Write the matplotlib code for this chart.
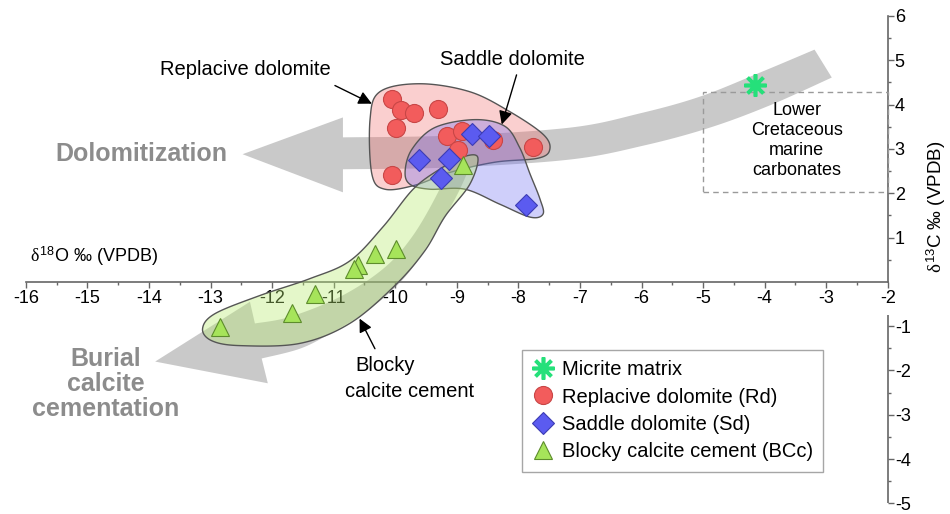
import numpy as np
import matplotlib
matplotlib.use('Agg')
import matplotlib.pyplot as plt
from matplotlib.patches import Polygon, Rectangle

plt.rcParams['font.family'] = ['Liberation Sans', 'DejaVu Sans']
plt.rcParams['mathtext.fontset'] = 'custom'
plt.rcParams['mathtext.rm'] = 'Liberation Sans'
plt.rcParams['mathtext.it'] = 'Liberation Serif'

# ---------------- data ----------------
micrite_d18O = [-4.16]
micrite_d13C = [4.45]
rd_d18O = [-10.06, -9.90, -9.70, -9.30, -9.99, -9.16, -8.92, -8.41, -7.76, -8.98, -10.06]
rd_d13C = [4.13, 3.87, 3.80, 3.89, 3.48, 3.30, 3.40, 3.21, 3.05, 2.97, 2.40]
sd_d18O = [-9.62, -9.12, -8.76, -8.47, -9.26, -7.88]
sd_d13C = [2.76, 2.78, 3.33, 3.29, 2.35, 1.73]
bcc_d18O = [-8.90, -9.99, -10.33, -10.60, -10.67, -11.31, -11.68, -12.85]
bcc_d13C = [2.63, 0.74, 0.63, 0.37, 0.29, -0.27, -0.70, -1.02]

x_ticks = list(range(-16, -1))
y_ticks = [-5, -4, -3, -2, -1, 1, 2, 3, 4, 5, 6]
legend_labels = ['Micrite matrix', 'Replacive dolomite (Rd)',
                 'Saddle dolomite (Sd)', 'Blocky calcite cement (BCc)']

# envelope outlines (d18O, d13C)
rd_env_x = [-10.25, -9.60, -8.79, -8.14, -7.60, -7.49, -7.68, -8.38, -9.11, -9.68, -10.17, -10.38, -10.41]
rd_env_y = [4.29, 4.47, 4.29, 3.84, 3.33, 2.99, 2.79, 2.70, 2.47, 2.18, 2.09, 2.43, 3.66]
sd_env_x = [-9.84, -9.73, -9.36, -8.71, -8.22, -7.98, -7.81, -7.65, -7.60, -7.81, -8.30, -8.87, -9.44, -9.76]
sd_env_y = [2.49, 2.99, 3.48, 3.66, 3.51, 3.03, 2.43, 1.87, 1.53, 1.46, 1.75, 2.09, 2.09, 2.20]
bcc_env_x = [-8.66, -8.79, -9.19, -9.52, -10.01, -10.74, -11.55, -12.52, -12.98, -13.13, -12.93,
             -12.20, -11.39, -10.74, -10.20, -9.71, -9.28, -8.92]
bcc_env_y = [2.81, 2.20, 1.48, 0.70, -0.09, -0.94, -1.39, -1.44, -1.33, -1.06, -0.72,
             -0.31, 0.07, 0.47, 1.24, 2.09, 2.54, 2.81]

# trend arrows (edges)
dol_up_x = [-10.85, -9.11, -7.16, -6.03, -5.05, -4.08, -3.19]
dol_up_y = [3.26, 3.30, 3.48, 3.80, 4.18, 4.72, 5.24]
dol_lo_x = [-2.91, -3.92, -4.89, -5.95, -7.16, -9.11, -10.85]
dol_lo_y = [4.61, 3.98, 3.48, 3.08, 2.76, 2.58, 2.54]
dol_head_x = [-10.85, -12.48, -10.85]
dol_head_y = [2.02, 2.88, 3.71]

bur_up_x = [-9.08, -9.32, -9.73, -10.20, -10.90, -11.71, -12.28]
bur_up_y = [2.76, 1.98, 1.01, 0.29, -0.34, -0.79, -0.94]
bur_head_x = [-12.36, -13.90, -12.07]
bur_head_y = [-0.45, -1.80, -2.29]
bur_lo_x = [-12.17, -11.55, -11.06, -10.41, -9.84, -9.41, -9.03, -8.82]
bur_lo_y = [-1.73, -1.51, -1.17, -0.61, 0.11, 0.97, 1.87, 2.49]


def catmull_rom(xs, ys, closed=True, n=20):
    pts = np.column_stack([xs, ys]).astype(float)
    if closed:
        P = np.vstack([pts[-1], pts, pts[0], pts[1]])
    else:
        P = np.vstack([pts[0], pts, pts[-1]])
    t = np.linspace(0, 1, n, endpoint=False)[:, None]
    out = []
    for i in range(1, len(P) - 2):
        p0, p1, p2, p3 = P[i - 1], P[i], P[i + 1], P[i + 2]
        seg = 0.5 * ((2 * p1) + (-p0 + p2) * t + (2 * p0 - 5 * p1 + 4 * p2 - p3) * t ** 2
                     + (-p0 + 3 * p1 - 3 * p2 + p3) * t ** 3)
        out.append(seg)
    if not closed:
        out.append(pts[-1:])
    return np.vstack(out)


fig = plt.figure(figsize=(9.5, 5.14), dpi=100)
ax = fig.add_axes([0, 0, 1, 1])
ax.set_xlim(-16.42, -0.99)
ax.set_ylim(-5.24, 6.36)
ax.set_facecolor('white')

grey_arrow = '#c9c9c9'
# dolomitization arrow
up = catmull_rom(dol_up_x, dol_up_y, closed=False)
lo = catmull_rom(dol_lo_x, dol_lo_y, closed=False)
head = np.column_stack([dol_head_x, dol_head_y])
ax.add_patch(Polygon(np.vstack([up, lo, head]), closed=True, facecolor=grey_arrow,
                     edgecolor='none', zorder=1))
# burial arrow
up = catmull_rom(bur_up_x, bur_up_y, closed=False)
lo = catmull_rom(bur_lo_x, bur_lo_y, closed=False)
head = np.column_stack([bur_head_x, bur_head_y])
ax.add_patch(Polygon(np.vstack([up, head, lo]), closed=True, facecolor=grey_arrow,
                     edgecolor='none', zorder=1))

# envelopes
env_edge = '#555555'
ax.add_patch(Polygon(catmull_rom(rd_env_x, rd_env_y), closed=True,
                     facecolor=(0.95, 0.42, 0.42, 0.32), edgecolor=env_edge, lw=1.0, zorder=2))
ax.add_patch(Polygon(catmull_rom(sd_env_x, sd_env_y), closed=True,
                     facecolor=(0.42, 0.42, 0.95, 0.32), edgecolor=env_edge, lw=1.0, zorder=3))
ax.add_patch(Polygon(catmull_rom(bcc_env_x, bcc_env_y), closed=True,
                     facecolor=(0.72, 0.92, 0.45, 0.38), edgecolor=env_edge, lw=1.0, zorder=4))

# dashed box
ax.add_patch(Rectangle((-5.0, 2.02), 3.0, 2.27, fill=False, edgecolor='#9a9a9a',
                       lw=1.0, linestyle=(0, (4, 3)), zorder=5))
ax.text(-3.48, 3.19, 'Lower\nCretaceous\nmarine\ncarbonates', ha='center', va='center',
        fontsize=13, linespacing=1.25, zorder=6)

# markers
h1, = ax.plot(micrite_d18O, micrite_d13C, linestyle='none', marker=(8, 2, 0), markersize=16,
              markeredgewidth=2.6, color='#25e07a', zorder=9)
h2, = ax.plot(rd_d18O, rd_d13C, linestyle='none', marker='o', markersize=13,
              markerfacecolor='#f25c5c', markeredgecolor='#c84646', markeredgewidth=0.8, zorder=6)
h3, = ax.plot(sd_d18O, sd_d13C, linestyle='none', marker='D', markersize=11,
              markerfacecolor='#5b5bf0', markeredgecolor='#3c3cb4', markeredgewidth=0.8, zorder=7)
h4, = ax.plot(bcc_d18O, bcc_d13C, linestyle='none', marker='^', markersize=13.5,
              markerfacecolor='#a6e45a', markeredgecolor='#5d8c2c', markeredgewidth=0.8, zorder=8)

# axes
axis_col = '#666666'
for s in ['top', 'left']:
    ax.spines[s].set_visible(False)
ax.spines['bottom'].set_position(('data', 0))
ax.spines['bottom'].set_bounds(-16, -2)
ax.spines['right'].set_position(('data', -2))
ax.spines['right'].set_bounds(0, 6)
for s in ['bottom', 'right']:
    ax.spines[s].set_color(axis_col)
    ax.spines[s].set_linewidth(1.2)
ax.plot([-2, -2], [-0.76, -5], color=axis_col, lw=1.2, zorder=2.5, solid_capstyle='butt')

ax.xaxis.set_ticks_position('bottom')
ax.yaxis.set_ticks_position('right')
ax.set_xticks(x_ticks)
ax.set_xticklabels([str(v) for v in x_ticks])
ax.set_xticks([v + 0.5 for v in x_ticks[:-1]], minor=True)
ax.set_yticks(y_ticks)
ax.set_yticklabels([str(v) for v in y_ticks])
ax.set_yticks([v + 0.5 for v in range(0, 6)] + [-1.5, -2.5, -3.5, -4.5], minor=True)
ax.tick_params(axis='x', which='major', direction='out', length=4, width=1, color=axis_col,
               labelsize=13, pad=2)
ax.tick_params(axis='x', which='minor', direction='out', length=2.5, width=1, color=axis_col)
ax.tick_params(axis='y', which='major', direction='out', length=4, width=1, color=axis_col,
               labelsize=13, pad=1, right=True, left=False, labelright=True, labelleft=False)
ax.tick_params(axis='y', which='minor', direction='out', length=2.5, width=1, color=axis_col,
               right=True, left=False)

# axis labels
ax.text(-15.94, 0.58, r'$\delta^{18}$O ‰ (VPDB)', ha='left', va='center', fontsize=13)
ax.text(-1.22, 1.69, r'$\delta^{13}$C ‰ (VPDB)', ha='center', va='center', fontsize=13.5,
        rotation=90)

# trend labels
ax.text(-14.13, 2.88, 'Dolomitization', ha='center', va='center', fontsize=18,
        fontweight='bold', color='#8c8c8c')
ax.text(-14.70, -2.31, 'Burial\ncalcite\ncementation', ha='center', va='center', fontsize=18,
        fontweight='bold', color='#8c8c8c', linespacing=1.05)

# annotations
arrow_kw = dict(arrowstyle='-|>', color='black', lw=1.0, mutation_scale=20, shrinkA=0, shrinkB=0)
ax.text(-12.44, 4.79, 'Replacive dolomite', ha='center', va='center', fontsize=14.5, zorder=10)
ax.annotate('', xy=(-10.38, 4.02), xytext=(-10.98, 4.43), arrowprops=arrow_kw, zorder=10)
ax.text(-8.09, 5.01, 'Saddle dolomite', ha='center', va='center', fontsize=14.5, zorder=10)
ax.annotate('', xy=(-8.27, 3.55), xytext=(-8.03, 4.67), arrowprops=arrow_kw, zorder=10)
ax.text(-10.17, -1.89, 'Blocky', ha='center', va='center', fontsize=14.5, zorder=10)
ax.text(-9.76, -2.47, 'calcite cement', ha='center', va='center', fontsize=14.5, zorder=10)
ax.annotate('', xy=(-10.58, -0.83), xytext=(-10.33, -1.51), arrowprops=arrow_kw, zorder=10)

# legend
leg = ax.legend([h1, h2, h3, h4], legend_labels, loc='upper left',
                bbox_to_anchor=(522 / 950, 1 - 350 / 514), bbox_transform=fig.transFigure,
                frameon=True, fancybox=False, fontsize=14.5, borderaxespad=0,
                handlelength=1.1, handletextpad=0.4, labelspacing=0.42, borderpad=0.5,
                numpoints=1)
leg.get_frame().set_edgecolor('#909090')
leg.get_frame().set_linewidth(1.0)
leg.set_zorder(12)

fig.savefig('out.png', dpi=100)
